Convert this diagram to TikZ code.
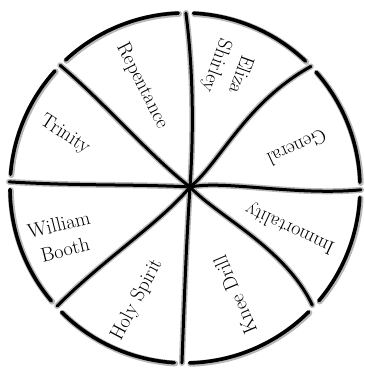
\documentclass[tikz,border=0pt]{standalone}
\usepackage{fontspec}
\begin{document}
\begin{tikzpicture}[x=1pt,y=1pt,
  spoke/.style={line width=3pt, line cap=round, black},
  rim/.style={line width=3.6pt, line cap=round, black},
  halo/.style={line width=6pt, line cap=round, black!28},
  lab/.style={font=\fontsize{20}{26}\selectfont, align=center, inner sep=0pt}
]
\useasboundingbox (-185,-183) rectangle (179,188);
\coordinate (hub) at (5,1);
% rim end points of the spokes
\coordinate (eT)  at (89.7:175);
\coordinate (eUR) at (44:175);
\coordinate (eR)  at (-0.6:176);
\coordinate (eLR) at (-42.6:173);
\coordinate (eB)  at (-91:175);
\coordinate (eLL) at (-137.3:174);
\coordinate (eL)  at (178:176);
\coordinate (eUL) at (135.5:175);
% rim arcs (halo then ink)
\foreach \a/\b in {46.5/87.2, 92.2/133, 138/175.5, 180.5/220.2, 225.2/266.5, 271.5/314.9, 319.9/356.9, 361.9/401.5}{
  \draw[halo, shift={(0.8,-0.8)}] (\a:175) arc[start angle=\a, end angle=\b, radius=175];
  \draw[rim] (\a:175) arc[start angle=\a, end angle=\b, radius=175];
}
% spokes
\foreach \sty in {halo,spoke}{
  \begin{scope}[\sty]
  \draw (hub) .. controls (9,60) and (8,120) .. (eT);
  \draw (hub) .. controls (35,25) and (60,85) .. (eUR);
  \draw (hub) .. controls (40,8) and (110,-8) .. (eR);
  \draw (hub) .. controls (35,-30) and (100,-60) .. (eLR);
  \draw (hub) .. controls (1,-60) and (-1,-120) .. (eB);
  \draw (hub) .. controls (-25,-35) and (-80,-70) .. (eLL);
  \draw (hub) .. controls (-50,4) and (-110,2) .. (eL);
  \draw (hub) .. controls (-35,32) and (-80,85) .. (eUL);
  \end{scope}
}
% labels
\node[lab, rotate=-63]  (rep) at (-43,102) {Repentance};
\node[lab, rotate=-110] (eli) at (43,118) {Eliza\\Shirley};
\node[lab, rotate=-155] (gen) at (112,40) {General};
\node[lab, rotate=155]  (imm) at (105,-40) {Immortality};
\node[lab, rotate=113]  (kne) at (50,-107) {Knee Drill};
\node[lab, rotate=62]   (hol) at (-48,-112) {Holy Spirit};
\node[lab, rotate=14]   (wil) at (-123,-49) {William\\Booth};
\node[lab, rotate=-33]  (tri) at (-120,53) {Trinity};
\end{tikzpicture}
\end{document}
